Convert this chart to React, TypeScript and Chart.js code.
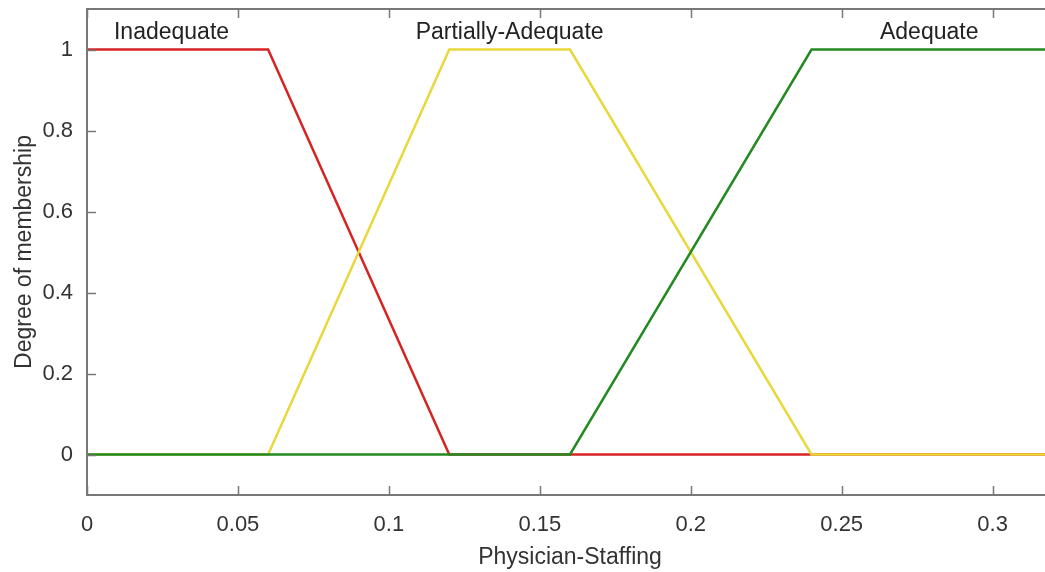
import React, { useEffect, useRef } from "react";
import { Chart, registerables } from "chart.js";

Chart.register(...registerables);

// ---- data ----
const xMin = 0;
const xMax = 0.32;
const yMin = -0.1;
const yMax = 1.1;
const xTicks = [0, 0.05, 0.1, 0.15, 0.2, 0.25, 0.3];
const xTickLabels = ["0", "0.05", "0.1", "0.15", "0.2", "0.25", "0.3"];
const yTicks = [0, 0.2, 0.4, 0.6, 0.8, 1];
const yTickLabels = ["0", "0.2", "0.4", "0.6", "0.8", "1"];

const inadequateX = [0, 0.06, 0.12, 0.32];
const inadequateY = [1, 1, 0, 0];
const partialX = [0, 0.06, 0.12, 0.16, 0.24, 0.32];
const partialY = [0, 0, 1, 1, 0, 0];
const adequateX = [0, 0.16, 0.24, 0.32];
const adequateY = [0, 0, 1, 1];

const mfNames = ["Inadequate", "Partially-Adequate", "Adequate"];
const mfLabelX = [0.028, 0.14, 0.279];
const mfLabelY = [1.042, 1.042, 1.042];

const xTitle = "Physician-Staffing";
const yTitle = "Degree of membership";

// ---- styles ----
const FONT = "'Liberation Sans', Arial, Helvetica, sans-serif";
const RED = "#d62424";
const YELLOW = "#e8d83c";
const GREEN = "#238a23";
const AXIS = "#787878";
const TEXT = "#333333";

const pts = (xs: number[], ys: number[]) => xs.map((x, i) => ({ x, y: ys[i] }));

const framePlugin = {
  id: "matlabFrame",
  afterDraw(chart: any) {
    const { ctx, chartArea } = chart;
    const { left, right, top, bottom } = chartArea;
    const xs = chart.scales.x;
    const ys = chart.scales.y;
    ctx.save();
    ctx.strokeStyle = AXIS;
    ctx.lineWidth = 2;
    ctx.beginPath();
    ctx.moveTo(right + 2, top);
    ctx.lineTo(left, top);
    ctx.lineTo(left, bottom);
    ctx.lineTo(right + 2, bottom);
    ctx.stroke();
    const tl = 9;
    ctx.lineWidth = 1.5;
    ctx.beginPath();
    xTicks.forEach((v) => {
      const px = Math.round(xs.getPixelForValue(v)) + 0.5;
      ctx.moveTo(px, bottom);
      ctx.lineTo(px, bottom - tl);
      ctx.moveTo(px, top);
      ctx.lineTo(px, top + tl);
    });
    yTicks.forEach((v) => {
      const py = Math.round(ys.getPixelForValue(v)) + 0.5;
      ctx.moveTo(left, py);
      ctx.lineTo(left + tl, py);
    });
    ctx.stroke();
    // membership function names
    ctx.fillStyle = "#222222";
    ctx.font = `23px ${FONT}`;
    ctx.textAlign = "center";
    ctx.textBaseline = "middle";
    mfNames.forEach((name, i) => {
      ctx.fillText(name, xs.getPixelForValue(mfLabelX[i]), ys.getPixelForValue(mfLabelY[i]));
    });
    ctx.restore();
  },
};

export default function App() {
  const canvasRef = useRef<HTMLCanvasElement | null>(null);

  useEffect(() => {
    const canvas = canvasRef.current;
    if (!canvas) return;
    const chart = new Chart(canvas, {
      type: "line",
      data: {
        datasets: [
          {
            label: mfNames[0],
            data: pts(inadequateX, inadequateY),
            borderColor: RED,
            borderWidth: 2.5,
            pointRadius: 0,
            fill: false,
            tension: 0,
            order: 3,
          },
          {
            label: mfNames[1],
            data: pts(partialX, partialY),
            borderColor: YELLOW,
            borderWidth: 2.5,
            pointRadius: 0,
            fill: false,
            tension: 0,
            order: 2,
          },
          {
            label: mfNames[2],
            data: pts(adequateX, adequateY),
            borderColor: GREEN,
            borderWidth: 2.5,
            pointRadius: 0,
            fill: false,
            tension: 0,
            order: 1,
          },
        ],
      },
      options: {
        responsive: false,
        animation: false,
        layout: { padding: { left: 0, top: 9, right: 7, bottom: 0 } },
        plugins: {
          legend: { display: false },
          tooltip: { enabled: false },
        },
        scales: {
          x: {
            type: "linear",
            min: xMin,
            max: xMax,
            grid: { display: false, drawTicks: false },
            border: { display: false },
            afterBuildTicks: (scale: any) => {
              scale.ticks = xTicks.map((v) => ({ value: v }));
            },
            afterFit: (scale: any) => {
              scale.height = 77;
              scale.paddingLeft = 0;
              scale.paddingRight = 0;
            },
            ticks: {
              padding: 17,
              maxRotation: 0,
              autoSkip: false,
              color: TEXT,
              font: { family: FONT, size: 22 },
              callback: (v: any) => {
                const i = xTicks.indexOf(Number(v));
                return i >= 0 ? xTickLabels[i] : "";
              },
            },
            title: {
              display: true,
              text: xTitle,
              color: TEXT,
              font: { family: FONT, size: 23 },
              padding: { top: 0, bottom: 1 },
            },
          },
          y: {
            type: "linear",
            min: yMin,
            max: yMax,
            grid: { display: false, drawTicks: false },
            border: { display: false },
            afterBuildTicks: (scale: any) => {
              scale.ticks = yTicks.map((v) => ({ value: v }));
            },
            afterFit: (scale: any) => {
              scale.width = 87;
              scale.paddingTop = 0;
              scale.paddingBottom = 0;
            },
            ticks: {
              padding: 14,
              autoSkip: false,
              color: TEXT,
              font: { family: FONT, size: 22 },
              callback: (v: any) => {
                const i = yTicks.indexOf(Number(v));
                return i >= 0 ? yTickLabels[i] : "";
              },
            },
            title: {
              display: true,
              text: yTitle,
              color: TEXT,
              font: { family: FONT, size: 23 },
              padding: { top: 11, bottom: 0 },
            },
          },
        },
      },
      plugins: [framePlugin],
    } as any);
    return () => chart.destroy();
  }, []);

  return (
    <div
      style={{
        position: "fixed",
        left: 0,
        top: 0,
        width: 1045,
        height: 572,
        overflow: "hidden",
        background: "#ffffff",
      }}
    >
      <canvas ref={canvasRef} width={1060} height={572} style={{ display: "block" }} />
    </div>
  );
}
